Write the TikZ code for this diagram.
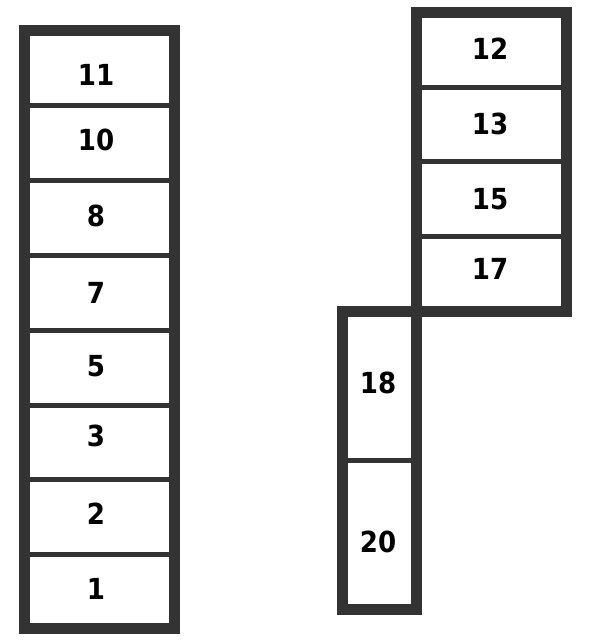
\documentclass[tikz,border=0pt]{standalone}
\usepackage{fontspec}
\setmainfont{DejaVu Sans Condensed}
\usepackage{xcolor}
\definecolor{framegray}{HTML}{333333}
\tikzstyle{frame}=[
        draw = framegray,
        line width = 11pt
    ]
\tikzstyle{divider}=[
        draw = framegray,
        line width = 5pt
    ]
\tikzstyle{slot}=[
        font = \bfseries\fontsize{29}{29}\selectfont,
        inner sep = 0pt
    ]

\begin{document}
\begin{tikzpicture}[x=1pt, y=-1pt]
        \useasboundingbox (0,0) rectangle (597,640);

        % left row
        \draw[frame] (24.5,30.5) rectangle (174.5,628.5);
        \draw[divider] (24.5,105.5) -- (174.5,105.5);
        \draw[divider] (24.5,180.5) -- (174.5,180.5);
        \draw[divider] (24.5,255.5) -- (174.5,255.5);
        \draw[divider] (24.5,330) -- (174.5,330);
        \draw[divider] (24.5,405) -- (174.5,405);
        \draw[divider] (24.5,479.5) -- (174.5,479.5);
        \draw[divider] (24.5,554.5) -- (174.5,554.5);

        \node[slot] (s11) at (96,75) {11};
        \node[slot] (s10) at (96,140) {10};
        \node[slot] (s8) at (96,216) {8};
        \node[slot] (s7) at (96,293) {7};
        \node[slot] (s5) at (96,366) {5};
        \node[slot] (s3) at (96,436) {3};
        \node[slot] (s2) at (96,514) {2};
        \node[slot] (s1) at (96,589) {1};

        % right row
        \draw[frame] (416.5,12) rectangle (566.5,311.5);
        \draw[frame] (342,311.5) rectangle (416.5,609.5);
        \draw[divider] (416.5,87.5) -- (566.5,87.5);
        \draw[divider] (416.5,161.5) -- (566.5,161.5);
        \draw[divider] (416.5,236.5) -- (566.5,236.5);
        \draw[divider] (342,460.5) -- (416.5,460.5);

        \node[slot] (s12) at (490,49) {12};
        \node[slot] (s13) at (490,124) {13};
        \node[slot] (s15) at (490,199) {15};
        \node[slot] (s17) at (490,269) {17};
        \node[slot] (s18) at (378,383) {18};
        \node[slot] (s20) at (378,542) {20};
    \end{tikzpicture}
\end{document}
